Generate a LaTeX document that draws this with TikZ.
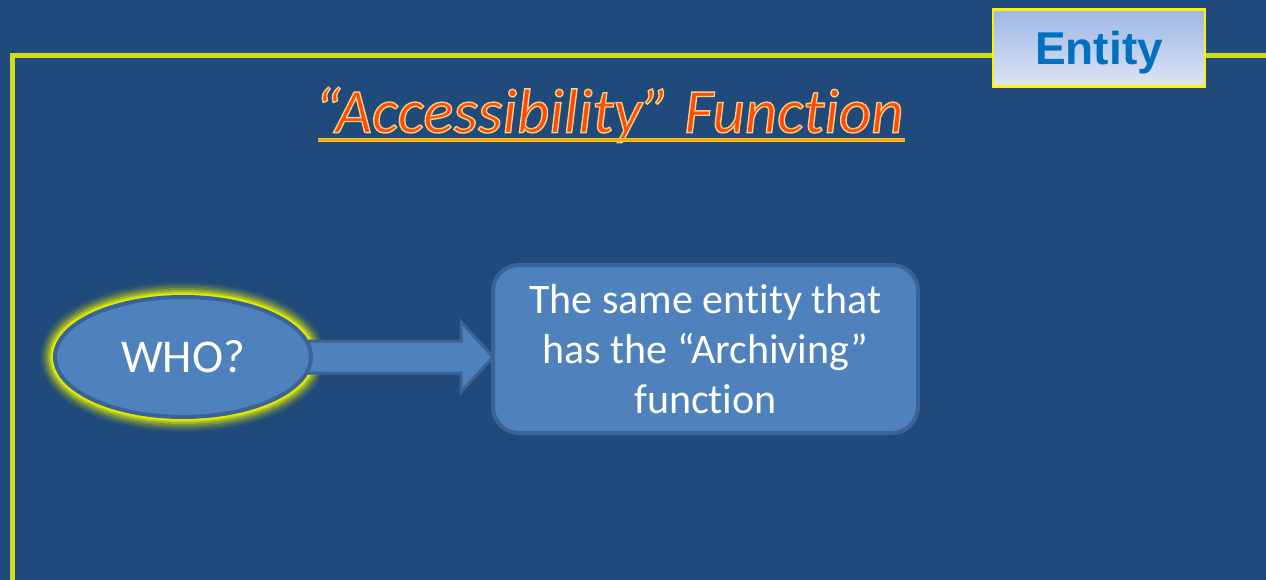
\documentclass[tikz,border=0pt]{standalone}
\usepackage{fontspec}
\setmainfont{Carlito}[Ligatures=NoCommon]
\newfontfamily\arialfont{Liberation Sans}
\newfontfamily\titlefam{Carlito}[Ligatures=NoCommon, ItalicFeatures={FakeBold=2.2}]
\usetikzlibrary{shapes.geometric,calc}
\definecolor{bg}{HTML}{1F4A7B}
\definecolor{frameyellow}{HTML}{D2DC1E}
\definecolor{boxfill}{HTML}{4F81BD}
\definecolor{boxedge}{HTML}{3A6397}
\definecolor{entityblue}{HTML}{0070C0}
\definecolor{entitytop}{HTML}{9DB6E4}
\definecolor{entitybot}{HTML}{DEE5F5}
\definecolor{titlered}{HTML}{FF4A0A}
\definecolor{glowy}{HTML}{E8F000}
\definecolor{ulyellow}{HTML}{F8C81A}
\definecolor{ulorange}{HTML}{F7A21B}
\newcommand{\yellowstroke}{\special{pdf:literal 0.95 0.82 0.50 RG}}
\pgfdeclarelayer{glowlayer}
\pgfdeclarelayer{backlayer}
\pgfsetlayers{glowlayer,backlayer,main}
\tikzset{
  frameline/.style={draw=frameyellow, line width=5pt},
  entitybox/.style={draw=yellow, line width=2.2pt, top color=entitytop, bottom color=entitybot, minimum width=212pt, minimum height=77pt, inner sep=0pt, text height=33pt, text depth=0pt, font=\arialfont\bfseries\fontsize{46}{50}\selectfont, text=entityblue},
  bluefill/.style={fill=boxfill, draw=boxedge, line width=4pt},
  whonode/.style={bluefill, ellipse, minimum width=256pt, minimum height=120pt, inner sep=0pt, text=white, font=\fontsize{47}{50}\selectfont},
  textbox/.style={bluefill, rounded corners=26pt, minimum width=425pt, minimum height=168pt, inner sep=0pt, text=white, align=center, font=\fontsize{42}{50}\selectfont},
  titlefont/.style={font=\titlefam\itshape\fontsize{63}{70}\selectfont, inner sep=0pt, text=titlered}
}
\begin{document}
\begin{tikzpicture}[x=1pt,y=-1pt]
\begin{pgfonlayer}{glowlayer}
\fill[bg] (0,0) rectangle (1266,580);
\end{pgfonlayer}
\useasboundingbox (0,0) rectangle (1266,580);
% entity box and frame
\node[entitybox] (entity) at (1099,48) {Entity};
\coordinate (fy) at (0,56);
\coordinate (fb) at (12,582);
\coordinate (fr) at (1268,56);
\begin{pgfonlayer}{backlayer}
\draw[frameline] (fb) -- (fb |- fy) -- (entity.west |- fy);
\draw[frameline] (entity.east |- fy) -- (fr);
\end{pgfonlayer}
% title
\node[titlefont] (title) at (609,115) {\yellowstroke “Accessibility” Function};
\coordinate (ul1) at (318,140);
\coordinate (ul2) at (905,140);
\draw[ulyellow, line width=4pt] (ul1) -- (ul2);
\draw[ulorange, line width=1.2pt] (ul1) -- (ul2);
% WHO ellipse
\node[whonode] (who) at (183,357) {WHO?};
\begin{pgfonlayer}{glowlayer}
\foreach \w/\o in {30/0.06,26/0.1,22/0.15,18/0.22,14/0.35,10/0.6,7/0.9}{
  \draw[glowy, line width=\w pt, opacity=\o] (who.center) ellipse (128 and 60);
}
\end{pgfonlayer}
% box
\node[textbox] (box) at (705.5,349) {The same entity that\\has the “Archiving”\\function};
% arrow
\begin{pgfonlayer}{backlayer}
\draw[bluefill, line width=3pt, line join=miter]
  ($(who.east)+(-6,-16)$) -- ($(box.west |- who.east)+(-30,-16)$) -- ($(box.west |- who.east)+(-30,-35)$)
  -- ($(box.west |- who.east)+(2,0)$) -- ($(box.west |- who.east)+(-30,35)$) -- ($(box.west |- who.east)+(-30,16)$)
  -- ($(who.east)+(-6,16)$);
\end{pgfonlayer}
\end{tikzpicture}
\end{document}
